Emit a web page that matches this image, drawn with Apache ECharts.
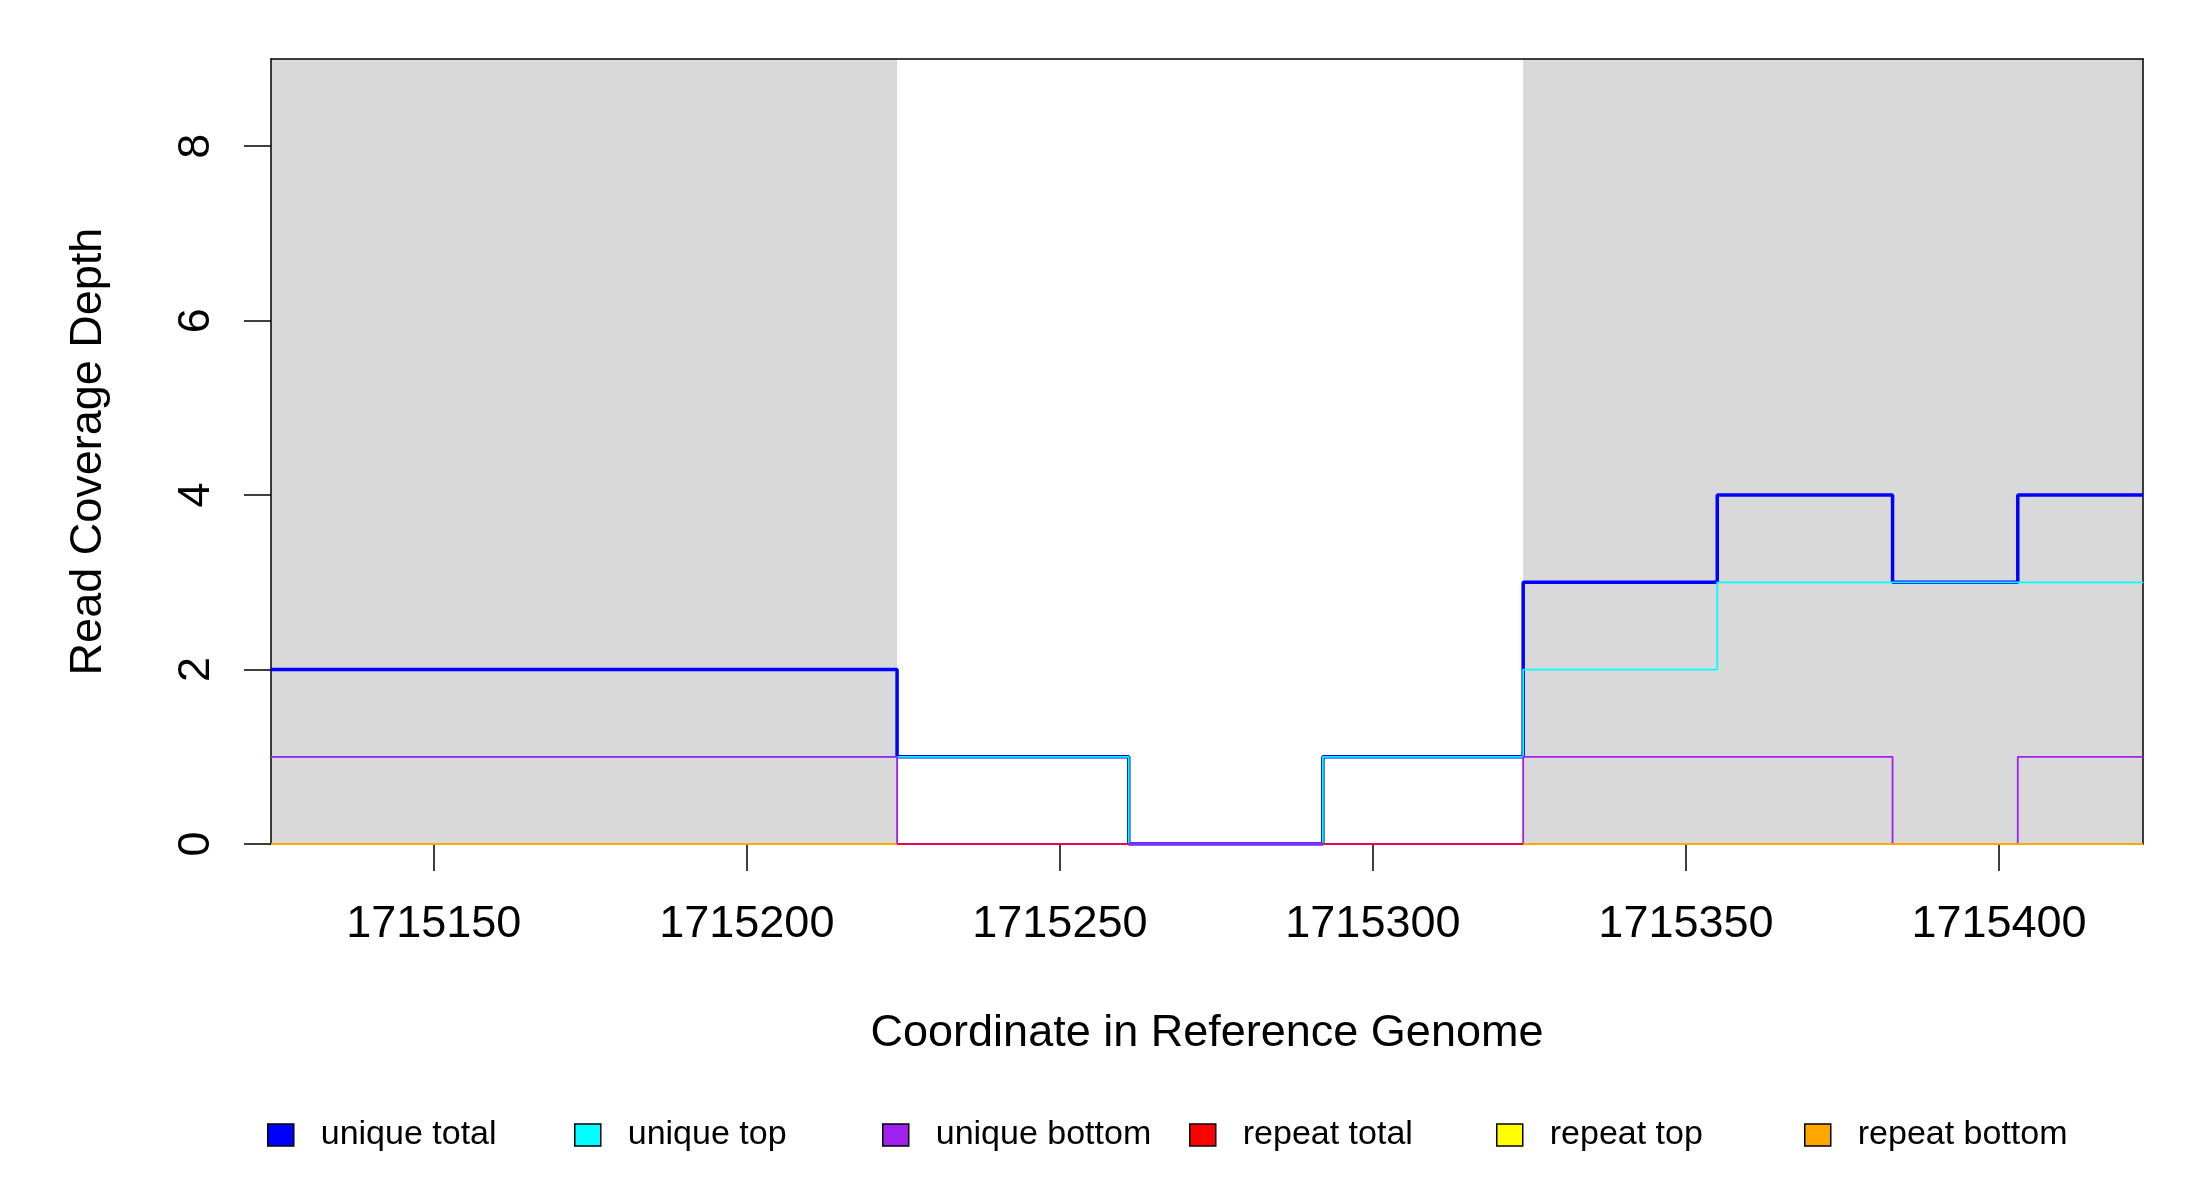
<!DOCTYPE html>
<html style="height: 100%">
<head>
    <meta charset="utf-8">
</head>
<body style="height: 100%; margin: 0; background: #fff">
<div id="container" style="width: 2200px; height: 1200px"></div>
<script type="text/javascript" src="https://cdn.jsdelivr.net/npm/echarts@6/dist/echarts.min.js"></script>
<script type="text/javascript">

    // coverage steps: each value holds from its start coordinate to the next one
    var xStart = 1715124;
    var xEnd = 1715423;
    var segStarts = [1715124, 1715224, 1715261, 1715292, 1715324, 1715355, 1715383, 1715403];

    var uniqueTotal = [2, 1, 0, 1, 3, 4, 3, 4];
    var uniqueTop = [1, 1, 0, 1, 2, 3, 3, 3];
    var uniqueBottom = [1, 0, 0, 0, 1, 1, 0, 1];
    var repeatTotal = [0, 0, null, 0, 0, 0, 0, 0];
    var repeatTop = [0, null, null, null, 0, 0, 0, 0];
    var repeatBottom = [0, null, null, null, 0, 0, 0, 0];

    // shaded regions of the reference
    var bands = [[1715124, 1715224], [1715324, 1715423]];

    var xTicks = [1715150, 1715200, 1715250, 1715300, 1715350, 1715400];
    var yTicks = [0, 2, 4, 6, 8];

    var seriesNames = ['unique total', 'unique top', 'unique bottom', 'repeat total', 'repeat top', 'repeat bottom'];
    var seriesColors = ['#0000ff', '#00ffff', '#a020f0', '#ff0000', '#ffff00', '#ffa500'];
    var seriesValues = [uniqueTotal, uniqueTop, uniqueBottom, repeatTotal, repeatTop, repeatBottom];

    var font = "'Liberation Sans', Arial, sans-serif";

    function steps(vals) {
        var out = [];
        for (var i = 0; i < vals.length; i++) {
            var end = i + 1 < segStarts.length ? segStarts[i + 1] : xEnd;
            if (vals[i] === null) {
                out.push([segStarts[i], '-']);
                continue;
            }
            out.push([segStarts[i], vals[i]]);
            out.push([end, vals[i]]);
        }
        return out;
    }

    var series = [{
        name: 'bands',
        type: 'line',
        z: 1,
        symbol: 'none',
        silent: true,
        lineStyle: {opacity: 0},
        data: [[xStart, 0]],
        markArea: {
            silent: true,
            itemStyle: {color: '#d9d9d9'},
            data: bands.map(function (b) {
                return [{xAxis: b[0], yAxis: 0}, {xAxis: b[1], yAxis: 9}];
            })
        }
    }];

    seriesNames.forEach(function (name, i) {
        series.push({
            name: name,
            type: 'line',
            z: 3 + i,
            symbol: 'none',
            silent: true,
            color: seriesColors[i],
            lineStyle: {
                color: seriesColors[i],
                width: i === 0 ? 3.5 : 1.8,
                opacity: i >= 3 ? 0.7 : 1
            },
            data: steps(seriesValues[i])
        });
    });

    var legendLeft = [267, 574, 882, 1189, 1496, 1804];
    var legends = seriesNames.map(function (name, i) {
        return {
            data: [name],
            left: legendLeft[i],
            top: 1118,
            padding: 0,
            icon: 'rect',
            itemWidth: 26,
            itemHeight: 22,
            selectedMode: false,
            itemStyle: {borderColor: '#000', borderWidth: 1.5},
            lineStyle: {width: 0},
            textStyle: {
                fontFamily: font,
                fontSize: 34,
                color: '#000',
                padding: [0, 0, 0, 22]
            }
        };
    });

    var myChart = echarts.init(document.getElementById('container'));

    var boxLine = {show: true, onZero: false, lineStyle: {color: '#000', width: 1.5}};

    var option = {
        backgroundColor: '#fff',
        animation: false,
        legend: legends,
        grid: {
            left: 271,
            right: 57,
            top: 59,
            bottom: 356
        },
        xAxis: [{
            type: 'value',
            min: xStart,
            max: xEnd,
            z: 2,
            name: 'Coordinate in Reference Genome',
            nameLocation: 'middle',
            nameGap: 167,
            nameTextStyle: {fontFamily: font, fontSize: 45, color: '#000'},
            axisLine: boxLine,
            axisTick: {show: true, length: 27, lineStyle: {color: '#000', width: 1.5}, customValues: xTicks},
            axisLabel: {
                fontFamily: font, fontSize: 45, color: '#000', margin: 58,
                customValues: xTicks,
                formatter: function (v) { return String(v); }
            },
            splitLine: {show: false}
        }, {
            type: 'value',
            position: 'top',
            min: xStart,
            max: xEnd,
            z: 2,
            axisLine: boxLine,
            axisTick: {show: false},
            axisLabel: {show: false},
            splitLine: {show: false}
        }],
        yAxis: [{
            type: 'value',
            min: 0,
            max: 9,
            z: 2,
            name: 'Read Coverage Depth',
            nameLocation: 'middle',
            nameGap: 160,
            nameTextStyle: {fontFamily: font, fontSize: 45, color: '#000'},
            axisLine: boxLine,
            axisTick: {show: true, length: 27, lineStyle: {color: '#000', width: 1.5}, customValues: yTicks},
            axisLabel: {
                fontFamily: font, fontSize: 45, color: '#000', margin: 52, rotate: 90,
                customValues: yTicks
            },
            splitLine: {show: false}
        }, {
            type: 'value',
            position: 'right',
            min: 0,
            max: 9,
            z: 2,
            axisLine: boxLine,
            axisTick: {show: false},
            axisLabel: {show: false},
            splitLine: {show: false}
        }],
        series: series
    };

    myChart.setOption(option);

</script>
</body>
</html>
